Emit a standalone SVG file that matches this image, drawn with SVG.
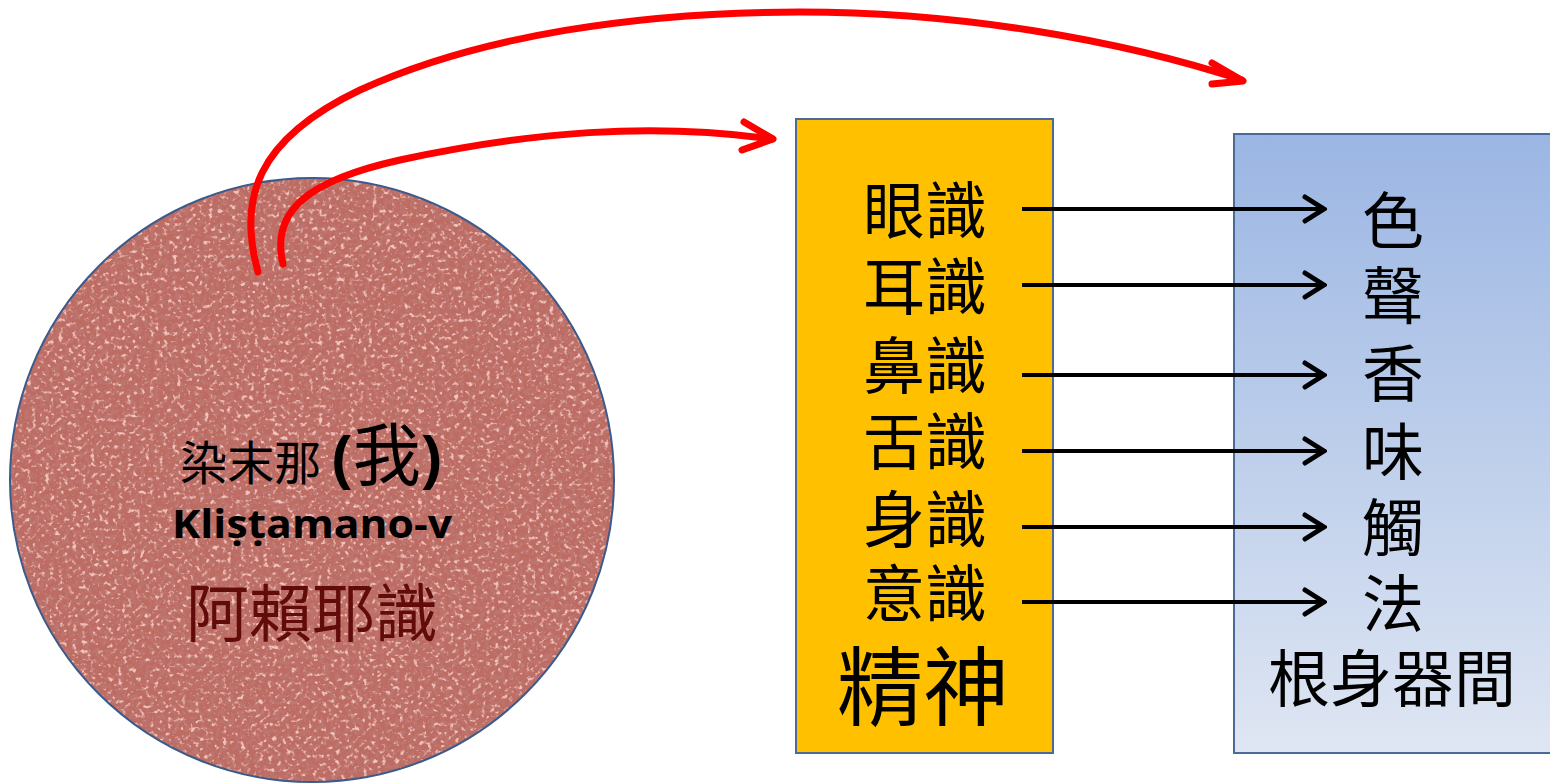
<svg xmlns="http://www.w3.org/2000/svg" width="1550" height="784" viewBox="0 0 1550 784">
<defs>
<style>
.cjk{font-family:"Noto Sans CJK TC","Noto Sans CJK SC",sans-serif;fill:#000;text-anchor:middle;dominant-baseline:central}
.blk{stroke:#000;stroke-width:4;fill:none}
.red{stroke:#ff0000;stroke-width:7;fill:none;stroke-linecap:round;stroke-linejoin:round}
</style>
<linearGradient id="bg" x1="0" y1="0" x2="0" y2="1">
<stop offset="0" stop-color="#9bb6e3"/>
<stop offset="1" stop-color="#dfe6f3"/>
</linearGradient>
<filter id="grainD" x="0" y="0" width="100%" height="100%">
<feTurbulence type="fractalNoise" baseFrequency="0.2" numOctaves="2" seed="4" result="n"/>
<feColorMatrix in="n" type="matrix" values="0 0 0 0 0.50  0 0 0 0 0.18  0 0 0 0 0.16  5 0 0 0 -2.4"/>
</filter>
<filter id="grainL" x="0" y="0" width="100%" height="100%">
<feTurbulence type="fractalNoise" baseFrequency="0.22" numOctaves="2" seed="11" result="n"/>
<feColorMatrix in="n" type="matrix" values="0 0 0 0 0.88  0 0 0 0 0.55  0 0 0 0 0.51  -5 0 0 0 2.3"/>
</filter>
<clipPath id="cc"><circle cx="312" cy="480" r="302"/></clipPath>
<marker id="ah" markerWidth="26" markerHeight="30" refX="23" refY="15" orient="auto" markerUnits="userSpaceOnUse">
<path d="M4,3 L23,15 L4,27" fill="none" stroke="#000" stroke-width="5" stroke-linecap="round" stroke-linejoin="miter"/>
</marker>
</defs>
<rect width="1550" height="784" fill="#fff"/>
<g id="circle-node">
<circle cx="312" cy="480" r="302" fill="#bd6c63"/>
<g clip-path="url(#cc)">
<rect x="0" y="170" width="630" height="630" filter="url(#grainL)"/>
<rect x="0" y="170" width="630" height="630" filter="url(#grainD)"/>
</g>
<circle cx="312" cy="480" r="302" fill="none" stroke="#3c5a8a" stroke-width="2"/>
<text x="311" y="480" font-family="'Noto Sans CJK TC',sans-serif" font-size="47" text-anchor="middle" fill="#000"><tspan>染末那 </tspan><tspan font-weight="bold" font-size="62" font-family="'Open Sans','Noto Sans CJK TC',sans-serif">(</tspan><tspan font-size="68">我</tspan><tspan font-weight="bold" font-size="62" font-family="'Open Sans',sans-serif">)</tspan></text>
<text x="312" y="538" font-family="'Open Sans',sans-serif" font-weight="bold" font-size="40" text-anchor="middle" textLength="280" lengthAdjust="spacingAndGlyphs" fill="#000">Kliṣṭamano-v</text>
<text x="312" y="608" class="cjk" font-size="63" style="fill:#620b0b">阿賴耶識</text>
</g>
<g id="mind-node">
<rect x="796" y="119" width="257" height="634" fill="#ffc000" stroke="#4a6a98" stroke-width="2"/>
<g class="cjk" font-size="62">
<text x="925" y="207">眼識</text>
<text x="925" y="283">耳識</text>
<text x="925" y="362">鼻識</text>
<text x="925" y="438">舌識</text>
<text x="925" y="516">身識</text>
<text x="925" y="590">意識</text>
</g>
<text x="923" y="681" class="cjk" font-size="86">精神</text>
</g>
<g id="world-node">
<rect x="1234" y="134" width="330" height="619" fill="url(#bg)" stroke="#4a6a98" stroke-width="2"/>
<g class="cjk" font-size="62">
<text x="1393" y="217">色</text>
<text x="1393" y="292">聲</text>
<text x="1393" y="370">香</text>
<text x="1393" y="448">味</text>
<text x="1393" y="524">觸</text>
<text x="1393" y="600">法</text>
<text x="1392" y="675">根身器間</text>
</g>
</g>
<g id="connectors">
<g class="blk" marker-end="url(#ah)">
<path d="M1022,209 H1324"/>
<path d="M1022,285 H1324"/>
<path d="M1022,375 H1324"/>
<path d="M1022,451 H1324"/>
<path d="M1022,527 H1324"/>
<path d="M1022,602 H1324"/>
</g>
<path class="red" d="M258,272 C238,200 255,140 360,90 C480,35 640,12 800,12 C960,12 1120,40 1242,80"/>
<path class="red" d="M1212,63 L1243,81 L1212,84"/>
<path class="red" d="M283,264 C270,210 310,180 400,160 C530,132 650,122 772,139"/>
<path class="red" d="M744,122 L773,139 L742,150"/>
</g>
</svg>
